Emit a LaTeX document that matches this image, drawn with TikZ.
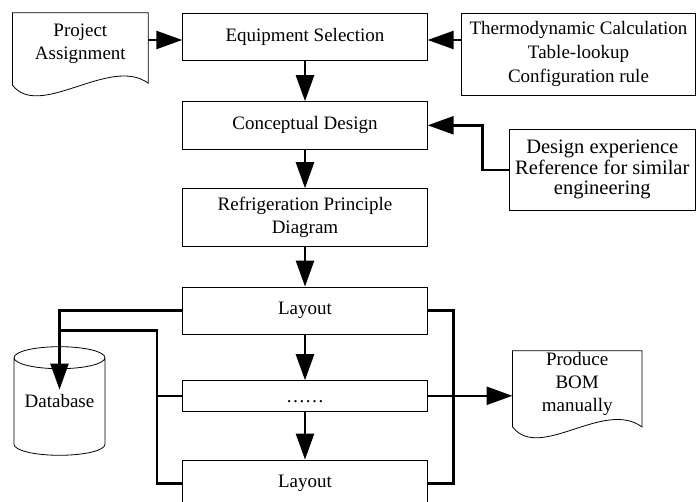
\documentclass[tikz,border=0pt]{standalone}
\usepackage{fontspec}
\setmainfont{Liberation Serif}
\usetikzlibrary{arrows.meta,calc}

\begin{document}
\begin{tikzpicture}[x=1pt,y=-1pt]
    % Define styles
    \tikzstyle{proc}=[draw,line width=0.8pt,minimum width=244.6pt,minimum height=47.4pt,inner sep=0pt,align=center,font=\fontsize{19}{23.5}\selectfont]
    \tikzstyle{side}=[proc,minimum height=81.7pt]
    \tikzstyle{doc}=[inner sep=0pt,align=center,font=\fontsize{19}{23}\selectfont]
    \tikzstyle{outline}=[line width=0.8pt]
    \tikzstyle{link}=[line width=2.5pt]
    \tikzstyle{arr}=[link,-{Triangle[length=26pt,width=18pt]}]

    \useasboundingbox (0,0) rectangle (697,502);

    % Main chain
    \node[proc] (eq) at (305,37) {Equipment Selection};
    \node[proc] (con) at (305,125.3) {Conceptual Design};
    \node[proc,minimum height=57.3pt] (ref) at (305,217.3) {Refrigeration Principle\\Diagram};
    \node[proc,minimum height=47pt] (lay1) at (305,310.5) {Layout};
    \node[proc,minimum height=30.3pt,text height=13pt] (dots) at (305,395.8) {……};
    \node[proc,minimum height=47pt] (lay2) at (305,483.5) {Layout};

    % Inputs
    \node[side,minimum width=233.6pt,font=\fontsize{19}{24}\selectfont] (thermo) at (578.5,54.2) {Thermodynamic Calculation\\Table-lookup\\Configuration rule};
    \node[side,minimum width=186.6pt,font=\fontsize{20.5}{20.5}\selectfont] (exp) at (602.3,169.85) {Design experience\\Reference for similar\\engineering};

    % Documents
    \node[doc,minimum width=135.3pt,minimum height=61pt] (proj) at (80.35,43.5) {Project\\Assignment};
    \draw[outline] (proj.north west) -- (proj.north east) -- ($(proj.south east)+(0,9)$)
        .. controls ($(proj.south east)+(-38,-19)$) and ($(proj.south west)+(27.3,46)$) .. ($(proj.south west)+(0,11)$) -- cycle;
    \node[doc,minimum width=129pt,minimum height=65pt] (bom) at (577.2,383.5) {Produce\\BOM\\manually};
    \draw[outline] (bom.north west) -- (bom.north east) -- ($(bom.south east)+(0,10.7)$)
        .. controls ($(bom.south east)+(-38,-17.3)$) and ($(bom.south west)+(27,45.7)$) .. ($(bom.south west)+(0,10.7)$) -- cycle;

    % Database
    \node[inner sep=4.5pt,font=\fontsize{19}{23}\selectfont] (db) at (59.5,401) {Database};
    \draw[outline] (db.center) ++(-45.5,-43.3) -- ++(0,86.6)
        arc[start angle=180,end angle=0,x radius=45.5,y radius=11] -- ++(0,-86.6)
        arc[start angle=0,end angle=-180,x radius=45.5,y radius=11]
        arc[start angle=180,end angle=0,x radius=45.5,y radius=11];

    % Flow
    \foreach \a/\b in {eq/con,con/ref,ref/lay1,lay1/dots,dots/lay2} {
        \draw[arr] (\a.south) -- (\b.north);
    }
    \draw[arr] ($(proj.east |- eq.west)+(0,3)$) -- ($(eq.west)+(0,3)$);
    \draw[arr] ($(thermo.west |- eq.east)+(0,3)$) -- ($(eq.east)+(0,3)$);
    \draw[arr] (exp.west) -- ++(-26,0) |- (con.east);

    % Layout to database
    \coordinate (lbus) at (157,330.7);
    \draw[arr] (lay1.west) -| (db.north);
    \draw[link] (db.north |- lbus) -- (lbus) |- (lay2.west);
    \draw[link] (lbus |- dots.west) -- (dots.west);

    % Layout to BOM
    \draw[link] (lay1.east) -- ++(25.7,0) |- (lay2.east);
    \draw[arr] (dots.east) -- (bom.west |- dots.east);
\end{tikzpicture}
\end{document}
